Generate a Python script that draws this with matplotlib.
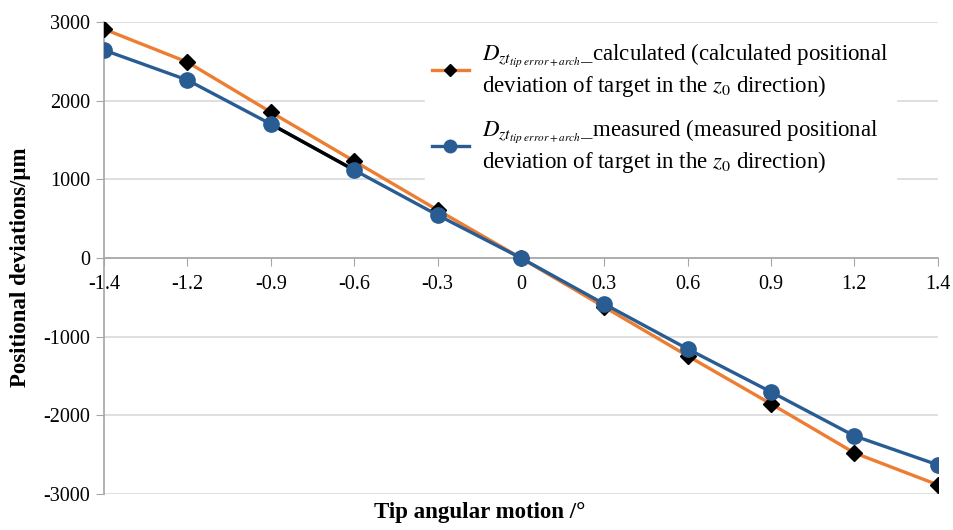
import matplotlib
matplotlib.use('Agg')
import matplotlib.pyplot as plt
from matplotlib.lines import Line2D

plt.rcParams['font.family'] = ['Liberation Serif', 'DejaVu Serif']
plt.rcParams['mathtext.fontset'] = 'stix'
plt.rcParams['axes.unicode_minus'] = False

# data
angles = ["-1.4", "-1.2", "-0.9", "-0.6", "-0.3", "0", "0.3", "0.6", "0.9", "1.2", "1.4"]
calculated = [2910, 2490, 1855, 1232, 610, 0, -623, -1245, -1855, -2478, -2884]
measured = [2643, 2262, 1703, 1118, 546, 0, -585, -1156, -1703, -2262, -2630]

orange = "#ED7D31"
blue = "#285C92"
grid = "#D9D9D9"
axis_grey = "#A6A6A6"

fig = plt.figure(figsize=(9.54, 5.30), dpi=100)
ax = fig.add_axes([0.109, 0.068, 0.874, 0.8905])

xs = list(range(len(angles)))

ax.plot(xs, calculated, color=orange, lw=2.4, marker="D", ms=8,
        mfc="black", mec="black", zorder=3)
ax.plot(xs, measured, color=blue, lw=2.4, zorder=4)
# the odd black segment between -0.9 and -0.6 on the measured curve
ax.plot(xs[2:4], measured[2:4], color="black", lw=2.4, zorder=4.5)
ax.plot(xs, measured, color=blue, lw=0, marker="o", ms=11, zorder=5)

ax.set_xlim(0, len(angles) - 1)
ax.set_ylim(-3000, 3000)
ax.set_yticks(range(-3000, 3001, 1000))
ax.set_xticks(xs)
ax.set_xticklabels(angles)

ax.yaxis.grid(True, color=grid, lw=1.2)
ax.set_axisbelow(True)

for s in ["top", "right"]:
    ax.spines[s].set_visible(False)
ax.spines["bottom"].set_position(("data", 0))
ax.spines["bottom"].set_color(axis_grey)
ax.spines["left"].set_color(axis_grey)
ax.spines["bottom"].set_linewidth(1.2)
ax.spines["left"].set_linewidth(1.2)

ax.tick_params(axis="x", direction="out", length=6, color=axis_grey,
               labelsize=14.5, pad=6)
ax.tick_params(axis="y", direction="out", length=6, color=axis_grey,
               labelsize=14.5, pad=4)

ax.set_xlabel("Tip angular motion /°", fontsize=16.5, fontweight="bold")
ax.xaxis.set_label_coords(0.45, -0.018)
ax.set_ylabel("Positional deviations/μm", fontsize=16.5, fontweight="bold")
ax.yaxis.set_label_coords(-0.087, 0.48)

handles = [
    Line2D([], [], color=orange, lw=2.4, marker="D", ms=6.5, mfc="black", mec="black"),
    Line2D([], [], color=blue, lw=2.4, marker="o", ms=9),
]
labels = [
    r"$D_{zt_{tip\ error+arch}}\_$calculated (calculated positional" + "\n"
    r"deviation of target in the $z_0$ direction)",
    r"$D_{zt_{tip\ error+arch}}\_$measured (measured positional" + "\n"
    r"deviation of target in the $z_0$ direction)",
]
leg = ax.legend(handles, labels, loc="upper left", bbox_to_anchor=(0.385, 0.973),
                fontsize=16.5, frameon=True, handlelength=1.6, handletextpad=0.6,
                labelspacing=0.8, borderaxespad=0, borderpad=0.3, fancybox=False)
leg.get_frame().set_facecolor("white")
leg.get_frame().set_edgecolor("white")
leg.get_frame().set_alpha(1)

fig.savefig("out.png", dpi=100, facecolor="white")
